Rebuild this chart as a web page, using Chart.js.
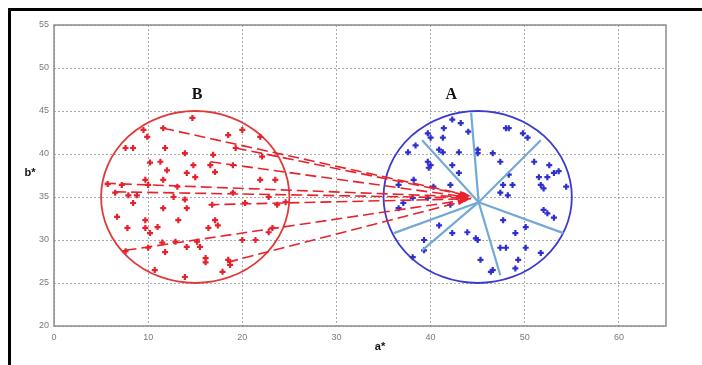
<!DOCTYPE html>
<html>
<head>
<meta charset="utf-8">
<script src="https://cdn.jsdelivr.net/npm/chart.js@4.4.0/dist/chart.umd.min.js"></script>
<style>
html, body { margin: 0; padding: 0; background: #fff; }
#wrap { position: relative; width: 702px; height: 365px; overflow: hidden; }
#frame { position: absolute; left: 8px; top: 8px; width: 740px; height: 420px; border: 3px solid #000; box-sizing: border-box; }
#c { position: absolute; left: 0; top: 0; }
</style>
</head>
<body>
<div id="wrap">
  <div id="frame"></div>
  <canvas id="c" width="702" height="365"></canvas>
</div>
<script>
// axis ticks
const xTicks = [0, 10, 20, 30, 40, 50, 60];
const yTicks = [20, 25, 30, 35, 40, 45, 50, 55];

// cluster B (red) and cluster A (blue) points, [a*, b*]
const pointsB = [
  [9.5,42.8],[11.6,43.0],[9.9,42.0],[7.6,40.7],[8.4,40.7],[11.8,40.7],[13.9,40.1],[11.3,39.1],
  [10.2,39.0],[12.0,38.1],[14.1,37.8],[9.7,37.0],[11.6,37.0],[5.7,36.5],[7.2,36.4],[10.0,36.4],
  [13.1,36.2],[6.5,35.5],[7.9,35.2],[8.8,35.2],[8.4,34.3],[12.7,35.0],[13.9,34.7],[11.6,33.7],
  [14.1,33.7],[6.7,32.7],[9.7,32.3],[13.2,32.3],[7.8,31.4],[9.7,31.4],[11.0,31.5],[10.2,30.8],
  [11.5,29.7],[12.9,29.8],[14.1,29.2],[7.6,28.7],[10.0,29.1],[11.8,28.6],[10.7,26.5],[13.9,25.7],
  [14.7,44.2],[20.0,42.8],[18.5,42.2],[21.9,42.0],[19.3,40.7],[22.1,39.7],[16.9,39.9],[14.8,38.7],
  [16.6,38.7],[19.0,38.7],[17.1,37.9],[15.0,37.3],[21.9,37.0],[23.5,37.0],[19.0,35.5],[22.8,35.0],
  [24.6,34.4],[16.8,34.1],[20.3,34.3],[23.7,34.1],[17.1,32.3],[17.4,31.7],[16.4,31.4],[23.2,31.4],
  [22.8,30.9],[20.0,30.0],[21.4,30.0],[15.2,29.8],[15.5,29.2],[16.1,27.9],[18.5,27.7],[18.7,27.1],
  [16.1,27.4],[17.9,26.3]
];
const pointsA = [
  [42.3,44.0],[43.2,43.6],[41.4,43.0],[39.7,42.4],[40.0,41.9],[41.3,41.9],[38.4,41.0],[37.6,40.2],
  [40.9,40.5],[41.3,40.2],[43.0,40.2],[45.0,40.1],[39.7,39.1],[40.0,38.7],[42.3,38.7],[43.0,37.8],
  [39.8,38.4],[38.2,37.0],[36.6,36.4],[40.3,36.2],[42.1,36.4],[38.1,34.9],[37.1,34.3],[36.6,33.7],
  [39.7,34.9],[42.1,34.1],[40.9,31.7],[42.3,30.8],[39.3,30.0],[43.9,30.9],[44.8,30.2],[38.1,28.0],
  [39.3,28.8],[44.0,42.6],
  [48.0,43.0],[48.3,43.0],[49.8,42.4],[50.3,41.9],[45.0,40.5],[46.6,40.1],[47.4,39.1],[51.0,39.1],
  [52.6,38.7],[48.3,37.6],[51.5,37.3],[52.4,37.3],[53.1,37.8],[53.6,38.0],[54.4,36.2],[48.7,36.4],
  [47.7,36.4],[51.7,36.4],[52.0,36.0],[47.4,35.5],[48.2,35.2],[52.0,33.5],[52.4,33.1],[53.1,32.6],
  [47.7,32.3],[50.1,31.5],[49.0,30.8],[45.0,30.0],[47.4,29.1],[48.0,29.1],[50.1,29.1],[51.7,28.5],
  [45.3,27.7],[49.3,27.7],[46.6,26.5],[49.0,26.7],[46.4,26.3]
];

// cluster circles: centre and radius in data units
const circleB = { cx: 15, cy: 35, r: 10 };
const circleA = { cx: 45, cy: 35, r: 10 };

// red dashed links from B to A
const linkStarts = [[11.6,43.0],[19.3,40.7],[16.6,39.1],[5.4,36.6],[6.5,35.6],[16.4,34.1],[7.6,28.8],[18.4,27.4]];
const linkEnds   = [[44.0,35.2],[44.3,35.1],[43.8,35.0],[44.2,35.0],[43.6,34.9],[44.3,34.8],[44.0,34.7],[43.8,34.6]];

// light blue spokes inside A
const spokeHub = [45.1, 34.4];
const spokeEnds = [[44.3,44.8],[39.1,41.6],[51.7,41.6],[54.1,30.8],[47.4,25.9],[39.1,28.8],[36.1,30.8]];

const RED = '#e8222c';
const BLUE = '#2f2fcf';
const SPOKE = '#72a9d6';

const toXY = arr => arr.map(p => ({ x: p[0], y: p[1] }));

const datasets = [];
spokeEnds.forEach(e => {
  datasets.push({
    type: 'line', data: toXY([spokeHub, e]), borderColor: SPOKE, borderWidth: 2.2,
    pointRadius: 0, fill: false, order: 1
  });
});
linkStarts.forEach((s, i) => {
  datasets.push({
    type: 'line', data: toXY([s, linkEnds[i]]), borderColor: RED, borderWidth: 1.6,
    borderDash: [11, 5], pointRadius: 0, fill: false, order: 2
  });
});
datasets.push({
  data: toXY(pointsA), pointStyle: 'cross', pointRadius: 3, borderWidth: 2.2,
  borderColor: BLUE, backgroundColor: BLUE, order: 3
});
datasets.push({
  data: toXY(pointsB), pointStyle: 'cross', pointRadius: 3, borderWidth: 2.2,
  borderColor: RED, backgroundColor: RED, order: 3
});

const decor = {
  id: 'decor',
  beforeDatasetsDraw(chart) {
    const { ctx, scales: { x, y } } = chart;
    [[circleB, '#e03a3a'], [circleA, '#3b3bcf']].forEach(([c, col]) => {
      const px = x.getPixelForValue(c.cx), py = y.getPixelForValue(c.cy);
      const rx = x.getPixelForValue(c.cx + c.r) - px;
      const ry = py - y.getPixelForValue(c.cy + c.r);
      ctx.save();
      ctx.strokeStyle = col;
      ctx.lineWidth = 1.8;
      ctx.beginPath();
      ctx.ellipse(px, py, rx, ry, 0, 0, Math.PI * 2);
      ctx.stroke();
      ctx.restore();
    });
  },
  afterDatasetsDraw(chart) {
    const { ctx, scales: { x, y } } = chart;
    // arrow heads at A end of the red links
    ctx.save();
    ctx.fillStyle = RED;
    linkStarts.forEach((s, i) => {
      const x1 = x.getPixelForValue(s[0]), y1 = y.getPixelForValue(s[1]);
      const x2 = x.getPixelForValue(linkEnds[i][0]), y2 = y.getPixelForValue(linkEnds[i][1]);
      const a = Math.atan2(y2 - y1, x2 - x1);
      ctx.beginPath();
      ctx.moveTo(x2, y2);
      ctx.lineTo(x2 - 9 * Math.cos(a - 0.3), y2 - 9 * Math.sin(a - 0.3));
      ctx.lineTo(x2 - 9 * Math.cos(a + 0.3), y2 - 9 * Math.sin(a + 0.3));
      ctx.closePath();
      ctx.fill();
    });
    ctx.restore();
  },
  afterDraw(chart) {
    const { ctx, chartArea: a, scales: { x, y } } = chart;
    ctx.save();
    // plot frame
    ctx.strokeStyle = '#8c8c8c';
    ctx.lineWidth = 1.5;
    ctx.strokeRect(a.left, a.top, a.right - a.left, a.bottom - a.top);
    // cluster labels
    ctx.fillStyle = '#111';
    ctx.font = 'bold 16px "Liberation Serif", serif';
    ctx.textAlign = 'center';
    ctx.textBaseline = 'middle';
    ctx.fillText('B', x.getPixelForValue(15.2), y.getPixelForValue(46.9));
    ctx.fillText('A', x.getPixelForValue(42.2), y.getPixelForValue(46.9));
    // axis titles
    ctx.font = 'bold 11px "Liberation Sans", sans-serif';
    ctx.fillText('b*', a.left - 24, (a.top + a.bottom) / 2 - 3);
    ctx.fillText('a*', (a.left + a.right) / 2 + 20, a.bottom + 21);
    ctx.restore();
  }
};

const gridOpts = { color: '#a8a8a8', lineWidth: 1, drawTicks: false };
const tickFont = { family: '"Liberation Sans", sans-serif', size: 9 };

new Chart(document.getElementById('c'), {
  type: 'scatter',
  data: { datasets },
  options: {
    responsive: false,
    animation: false,
    layout: { padding: { top: 25, right: 36, left: 0, bottom: 0 } },
    plugins: { legend: { display: false }, tooltip: { enabled: false } },
    scales: {
      x: {
        type: 'linear', min: 0, max: 65,
        afterBuildTicks: s => { s.ticks = xTicks.map(v => ({ value: v })); },
        afterFit: s => { s.height = 39; },
        grid: gridOpts,
        border: { display: false, dash: [2, 2] },
        ticks: { color: '#7a7a7a', font: tickFont, padding: 6 }
      },
      y: {
        type: 'linear', min: 20, max: 55,
        afterBuildTicks: s => { s.ticks = yTicks.map(v => ({ value: v })); },
        afterFit: s => { s.width = 54; },
        grid: gridOpts,
        border: { display: false, dash: [2, 2] },
        ticks: { color: '#7a7a7a', font: tickFont, padding: 5 }
      }
    }
  },
  plugins: [decor]
});
</script>
</body>
</html>
